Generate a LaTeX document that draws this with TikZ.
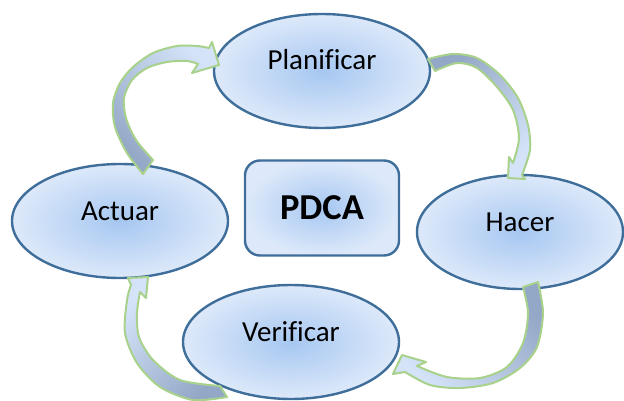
\documentclass[tikz,border=0pt]{standalone}
\usepackage{fontspec}
\setmainfont{Carlito}[Ligatures=NoCommon]
\usetikzlibrary{shapes.geometric}
\definecolor{borde}{HTML}{3E6E99}
\definecolor{azulcentro}{HTML}{A6C7F1}
\definecolor{azulborde}{HTML}{DDE9FA}
\definecolor{grisazul}{HTML}{93A7C6}
\definecolor{azulclaro}{HTML}{D4E3F8}
\definecolor{verde}{HTML}{A8D28C}
\begin{document}
\begin{tikzpicture}[x=1pt, y=-1pt,
            fase/.style={ellipse, draw=borde, line width=2.4pt, inner color=azulcentro, outer color=azulborde,
                minimum width=216pt, minimum height=114pt, inner sep=0pt, text height=20pt, text depth=22pt,
                font=\fontsize{29}{34}\selectfont},
            centro/.style={rectangle, rounded corners=15pt, draw=borde, line width=2.4pt, inner color=azulcentro,
                outer color=azulborde, minimum width=154pt, minimum height=95pt, font=\bfseries\fontsize{36.5}{42}\selectfont},
            flecha/.style={draw=verde, line width=2pt, line join=round},
        ]
            \useasboundingbox (0,0) rectangle (624,401);
            \node(plannode) at (322,71) [fase] {Planificar};
            \node(actnode) at (120,221) [fase] {Actuar};
            \node[fase, minimum width=206pt](hacnode) at (520,232) {Hacer};
            \node(vernode) at (291,342) [fase] {Verificar};
            \node[centro](pdcanode) at (322,208) {PDCA};
            % actuar -> planificar
            \path[flecha, top color=azulclaro, bottom color=grisazul, shading angle=-45]
                plot[smooth] coordinates {(143,174) (127,153) (115,127) (113,103) (120,83) (133,67) (153,53) (177,46) (197,46) (209,48)}
                -- (212,42) -- (219,65) -- (192,73) -- (198,64)
                -- plot[smooth] coordinates {(198,64) (187,61) (167,62) (147,68) (132,80) (124,98) (126,118) (136,140) (153,160)}
                -- cycle;
            % planificar -> hacer
            \path[flecha, top color=grisazul, bottom color=azulclaro, shading angle=45]
                plot[smooth] coordinates {(428,59) (453,54) (477,58) (500,75) (518,98) (528,125) (530,150) (522,175)}
                -- (525,179) -- (508,178) -- (509,157) -- (513,163)
                -- plot[smooth] coordinates {(513,163) (519,138) (513,110) (497,87) (477,68) (457,63) (435,71)}
                -- cycle;
            % hacer -> verificar
            \path[flecha, top color=grisazul, bottom color=azulclaro, shading angle=-45]
                plot[smooth] coordinates {(538,282) (543,313) (537,347) (520,368) (493,383) (460,388) (430,385) (405,372)}
                -- (393,374) -- (402,355) -- (426,362) -- (417,366)
                -- plot[smooth] coordinates {(417,366) (447,377) (480,378) (507,367) (523,343) (528,313) (523,287)}
                -- cycle;
            % verificar -> actuar
            \path[flecha, top color=azulclaro, bottom color=grisazul, shading angle=45]
                plot[smooth] coordinates {(227,397) (193,400) (160,387) (137,363) (125,333) (127,300) (131,285)}
                -- (128,278) -- (148,277) -- (146,298) -- (140,292)
                -- plot[smooth] coordinates {(140,292) (137,313) (139,337) (153,360) (180,380) (220,386)}
                -- cycle;
        \end{tikzpicture}
\end{document}
